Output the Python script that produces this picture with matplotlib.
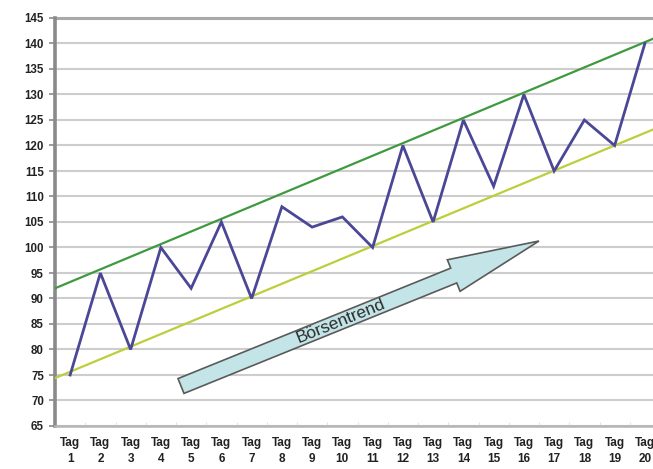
import numpy as np
import matplotlib
matplotlib.use("Agg")
import matplotlib.pyplot as plt
from matplotlib.patches import Polygon

plt.rcParams["font.family"] = ["Liberation Sans", "DejaVu Sans"]

# Daily closing values
days = [f"Tag\n{i}" for i in range(1, 21)]
values = [75, 95, 80, 100, 92, 105, 90, 108, 104, 106,
          100, 120, 105, 125, 112, 130, 115, 125, 120, 140]

# Trend channel: values at the left and right edge of the plot
upper_channel = [92.0, 141.5]
lower_channel = [74.4, 123.7]

y_ticks = list(range(65, 150, 5))
arrow_label = "Börsentrend"

W, H = 653, 469
fig = plt.figure(figsize=(W / 100, H / 100), dpi=100)
fig.patch.set_facecolor("white")
ax = fig.add_axes([55 / W, 1 - 426 / H, 605 / W, 408 / H])

x = np.arange(1, len(values) + 1)
ax.set_xlim(0.5, len(values) + 0.5)
ax.set_ylim(y_ticks[0], y_ticks[-1])

# horizontal grid
for yv in y_ticks:
    ax.axhline(yv, color="#cdcdcd", lw=1.5, zorder=1)
ax.axhline(y_ticks[-1], color="#a9a9a9", lw=2.2, zorder=1, clip_on=False)

# channel lines
edges = [0.5, len(values) + 0.5]
ax.plot(edges, upper_channel, color="#3f9a3f", lw=1.6, zorder=3)
ax.plot(edges, lower_channel, color="#bccf3a", lw=1.6, zorder=3)

# price line
ax.plot(x, values, color="#4a4896", lw=2.0, zorder=4, solid_joinstyle="miter")

# axes styling
for s in ["top", "right"]:
    ax.spines[s].set_visible(False)
ax.spines["left"].set_color("#8a8a8a")
ax.spines["left"].set_linewidth(2.6)
ax.spines["bottom"].set_color("#b5b5b5")
ax.spines["bottom"].set_linewidth(1.8)

ax.set_yticks(y_ticks)
ax.set_yticklabels([str(v) for v in y_ticks], fontsize=8.3, fontweight="bold", color="#222222")
ax.tick_params(axis="y", length=4, width=1.2, color="#8a8a8a", pad=4)

ax.set_xticks(x)
ax.set_xticklabels(days, fontsize=8.5, fontweight="bold", color="#222222", linespacing=1.4)
ax.tick_params(axis="x", length=0, pad=8)
ax.set_xticks(np.arange(0.5, len(values) + 1, 1), minor=True)
ax.tick_params(axis="x", which="minor", length=3, color="#dddddd", direction="in")

# block arrow for the trend
tail = np.array([181.0, 386.0])
tip = np.array([539.0, 241.0])
u = (tip - tail) / np.linalg.norm(tip - tail)
n = np.array([u[1], -u[0]])
hw, head_hw, head_len = 8.0, 17.0, 92.0
base = tip - u * head_len
pts = [tail + n * hw, base + n * hw, base + n * head_hw, tip,
       base - n * head_hw, base - n * hw, tail - n * hw]
pts = [(p[0] / W, 1 - p[1] / H) for p in pts]
fig.patches.append(Polygon(pts, closed=True, transform=fig.transFigure,
                           facecolor="#c4e5e7", edgecolor="#5a5a5a", lw=1.2, zorder=5))
angle = np.degrees(np.arctan2(tip[1] - tail[1], tip[0] - tail[0]))
mid = tail + u * 172
fig.text(mid[0] / W, 1 - mid[1] / H, arrow_label, rotation=-angle, rotation_mode="anchor",
         ha="center", va="center", fontsize=12.5, color="#2b2b2b", zorder=6)

fig.savefig("out.png", dpi=100, facecolor="white")
